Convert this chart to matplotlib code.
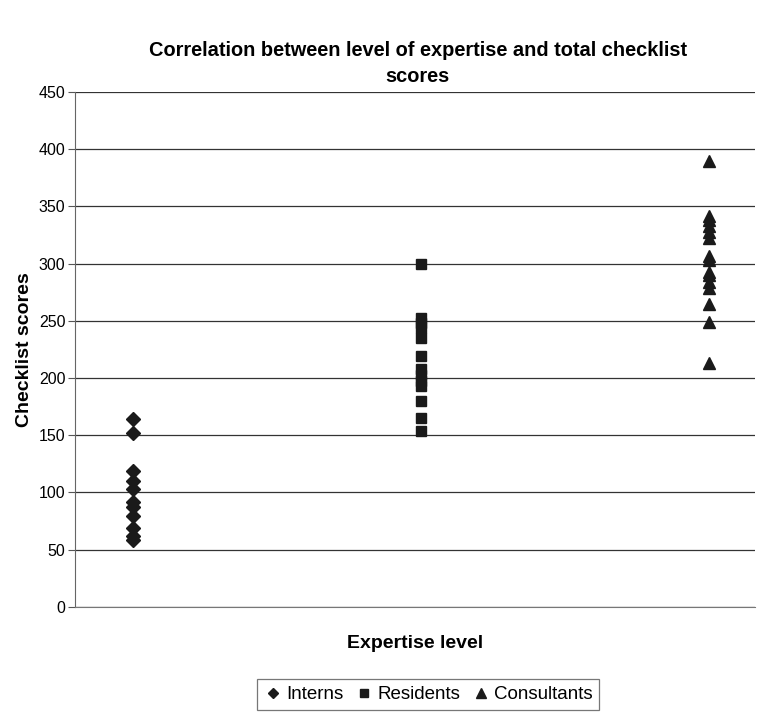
import matplotlib.pyplot as plt
import numpy as np

plt.rcParams['font.family'] = ['Liberation Sans', 'DejaVu Sans']

# Checklist scores
interns = [164, 152, 119, 110, 103, 92, 87, 79, 69, 62, 58]
residents = [300, 252, 248, 244, 235, 219, 208, 203, 197, 193, 180, 165, 154]
consultants = [390, 342, 338, 333, 328, 322, 307, 303, 293, 290, 284, 279, 265, 249, 213]

groups = ['Interns', 'Residents', 'Consultants']
markers = ['D', 's', '^']
sizes = [7, 7, 8.5]
yticks = np.arange(0, 451, 50)

fig = plt.figure(figsize=(7.58, 7.13), dpi=100)
ax = fig.add_axes([0.099, 0.149, 0.897, 0.722])

for i, (name, vals) in enumerate(zip(groups, [interns, residents, consultants])):
    ax.plot([i + 1] * len(vals), vals, linestyle='none', marker=markers[i],
            markersize=sizes[i], color='#1a1a1a', label=name, zorder=3)

ax.set_xlim(0.8, 3.16)
ax.set_ylim(0, 450)
ax.set_yticks(yticks)
ax.set_xticks([])
ax.tick_params(axis='y', labelsize=11.5, length=5, color='#555555', pad=2)
ax.yaxis.grid(True, color='#333333', linewidth=0.9)
ax.set_axisbelow(True)
for s in ['top', 'right']:
    ax.spines[s].set_visible(False)
ax.spines['left'].set_color('#666666')
ax.spines['bottom'].set_color('#777777')

ax.set_ylabel('Checklist scores', fontsize=14, fontweight='bold', labelpad=4)
ax.set_xlabel('Expertise level', fontsize=14, fontweight='bold', labelpad=20)
fig.text(0.551, 0.911, 'Correlation between level of expertise and total checklist\nscores',
         ha='center', va='center', fontsize=14.4, fontweight='bold', linespacing=1.45)

leg = fig.legend(loc='upper center', bbox_to_anchor=(0.565, 0.047), ncol=3,
                 fontsize=13.5, frameon=True, fancybox=False, edgecolor='#555555',
                 handletextpad=0.2, columnspacing=0.6, handlelength=1.0,
                 markerscale=0.8, borderpad=0.35, borderaxespad=0)
leg.get_frame().set_linewidth(0.9)

fig.savefig('out.png', dpi=100)
